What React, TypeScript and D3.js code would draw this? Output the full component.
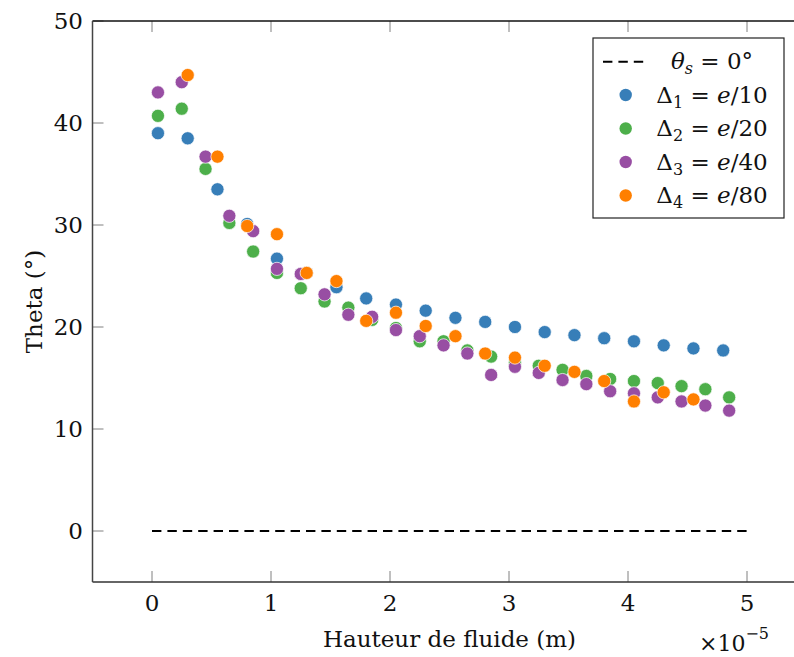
import React from "react";
import * as d3 from "d3";

// x values in units of 1e-5 m
const xBlue = [0.05, 0.3, 0.55, 0.8, 1.05, 1.3, 1.55, 1.8, 2.05, 2.3, 2.55, 2.8, 3.05, 3.3, 3.55, 3.8, 4.05, 4.3, 4.55, 4.8];
const yBlue = [39.0, 38.5, 33.5, 30.1, 26.7, 25.3, 23.9, 22.8, 22.2, 21.6, 20.9, 20.5, 20.0, 19.5, 19.2, 18.9, 18.6, 18.2, 17.9, 17.7];

const xGreen = [0.05, 0.25, 0.45, 0.65, 0.85, 1.05, 1.25, 1.45, 1.65, 1.85, 2.05, 2.25, 2.45, 2.65, 2.85, 3.05, 3.25, 3.45, 3.65, 3.85, 4.05, 4.25, 4.45, 4.65, 4.85];
const yGreen = [40.7, 41.4, 35.5, 30.2, 27.4, 25.3, 23.8, 22.5, 21.9, 20.7, 19.9, 18.6, 18.6, 17.7, 17.1, 16.5, 16.2, 15.8, 15.2, 14.9, 14.7, 14.5, 14.2, 13.9, 13.1];

const xPurple = [0.05, 0.25, 0.45, 0.65, 0.85, 1.05, 1.25, 1.45, 1.65, 1.85, 2.05, 2.25, 2.45, 2.65, 2.85, 3.05, 3.25, 3.45, 3.65, 3.85, 4.05, 4.25, 4.45, 4.65, 4.85];
const yPurple = [43.0, 44.0, 36.7, 30.9, 29.4, 25.7, 25.2, 23.2, 21.2, 21.0, 19.7, 19.1, 18.2, 17.4, 15.3, 16.1, 15.5, 14.8, 14.4, 13.7, 13.5, 13.1, 12.7, 12.3, 11.8];

const xOrange = [0.3, 0.55, 0.8, 1.05, 1.3, 1.55, 1.8, 2.05, 2.3, 2.55, 2.8, 3.05, 3.3, 3.55, 3.8, 4.05, 4.3, 4.55];
const yOrange = [44.7, 36.7, 29.9, 29.1, 25.3, 24.5, 20.6, 21.4, 20.1, 19.1, 17.4, 17.0, 16.2, 15.6, 14.7, 12.7, 13.6, 12.9];

const refLineX = [0, 5];
const refLineY = [0, 0];

const xTicks = [0, 1, 2, 3, 4, 5];
const yTicks = [0, 10, 20, 30, 40, 50];

const seriesNames = ["1", "2", "3", "4"];
const seriesDenoms = ["10", "20", "40", "80"];
const seriesColors = ["#377eb8", "#4daf4a", "#984ea3", "#ff7f00"];

const FONT = "DejaVu Serif";

export default function App() {
  const W = 794, H = 657;
  const x = d3.scaleLinear().domain([-0.5, 5.5]).range([92.5, 806.5]);
  const y = d3.scaleLinear().domain([-5, 50]).range([582, 21]);
  const series = [
    { xs: xBlue, ys: yBlue },
    { xs: xGreen, ys: yGreen },
    { xs: xPurple, ys: yPurple },
    { xs: xOrange, ys: yOrange },
  ];
  const line = d3.line<number>().x((d) => x(d)).y((_, i) => y(refLineY[i]));
  const x0 = x(-0.5), x1 = x(5.5), yTop = y(50), yBot = y(-5);
  const tickLen = 11;
  const fs = 23;

  const legX = 593, legY = 38, legW = 191, legH = 180;
  const rowY = [61.7, 95, 128.5, 162, 195.5];
  const textCx = 712;

  return (
    <svg width={W} height={H} style={{ position: "absolute", left: 0, top: 0, background: "#fff" }} fontFamily={FONT}>
      <rect x={0} y={0} width={W} height={H} fill="#fff" />
      {/* ticks */}
      {xTicks.map((t) => (
        <g key={"xt" + t}>
          <line x1={x(t)} x2={x(t)} y1={yBot} y2={yBot - tickLen} stroke="#808080" strokeWidth={1} />
          <line x1={x(t)} x2={x(t)} y1={yTop} y2={yTop + tickLen} stroke="#808080" strokeWidth={1} />
          <text x={x(t)} y={611} textAnchor="middle" fontSize={fs} fill="#111">{t}</text>
        </g>
      ))}
      {yTicks.map((t) => (
        <g key={"yt" + t}>
          <line x1={x0} x2={x0 + tickLen} y1={y(t)} y2={y(t)} stroke="#808080" strokeWidth={1} />
          <text x={83} y={y(t)} dy="0.36em" textAnchor="end" fontSize={fs} fill="#111">{t}</text>
        </g>
      ))}
      {/* axis box */}
      <line x1={x0} x2={x1} y1={yTop} y2={yTop} stroke="#111" strokeWidth={1.3} />
      <line x1={x0} x2={x1} y1={yBot} y2={yBot} stroke="#333" strokeWidth={1.5} />
      <line x1={x0} x2={x0} y1={yTop} y2={yBot} stroke="#444" strokeWidth={1.5} />
      <line x1={x1} x2={x1} y1={yTop} y2={yBot} stroke="#444" strokeWidth={1.5} />

      {/* reference dashed line */}
      <path d={line(refLineX) || ""} stroke="#000" strokeWidth={2} strokeDasharray="9.4 6" fill="none" />

      {/* points */}
      {series.map((s, si) => (
        <g key={"s" + si}>
          {s.xs.map((xv, i) => (
            <circle key={i} cx={x(xv)} cy={y(s.ys[i])} r={6.6} fill={seriesColors[si]} stroke="#fff" strokeWidth={0.7} />
          ))}
        </g>
      ))}

      {/* axis labels */}
      <text x={(x0 + x1) / 2} y={646.5} textAnchor="middle" fontSize={fs} fill="#111">Hauteur de fluide (m)</text>
      <text transform={`translate(42,${(yTop + yBot) / 2}) rotate(-90)`} textAnchor="middle" fontSize={fs} fill="#111">Theta (°)</text>
      <text x={699} y={651} fontSize={22} fill="#111">
        ×10<tspan fontSize={16} dy={-12}>−5</tspan>
      </text>

      {/* legend */}
      <rect x={legX} y={legY} width={legW} height={legH} fill="#fff" stroke="#222" strokeWidth={1.2} />
      <line x1={603} x2={643.5} y1={rowY[0]} y2={rowY[0]} stroke="#000" strokeWidth={2} strokeDasharray="9.4 6" />
      <text x={textCx} y={rowY[0] + 7.5} textAnchor="middle" fontSize={fs} fill="#111">
        <tspan fontStyle="italic">θ</tspan>
        <tspan fontSize={16} fontStyle="italic" dy={5}>s</tspan>
        <tspan dy={-5}> = 0°</tspan>
      </text>
      {seriesNames.map((n, i) => (
        <g key={"leg" + i}>
          <circle cx={625.7} cy={rowY[i + 1]} r={6.2} fill={seriesColors[i]} />
          <text x={textCx} y={rowY[i + 1] + 7.5} textAnchor="middle" fontSize={fs} fill="#111">
            Δ<tspan fontSize={16} dy={5}>{n}</tspan>
            <tspan dy={-5}> = </tspan>
            <tspan fontStyle="italic">e</tspan>/{seriesDenoms[i]}
          </text>
        </g>
      ))}
    </svg>
  );
}
